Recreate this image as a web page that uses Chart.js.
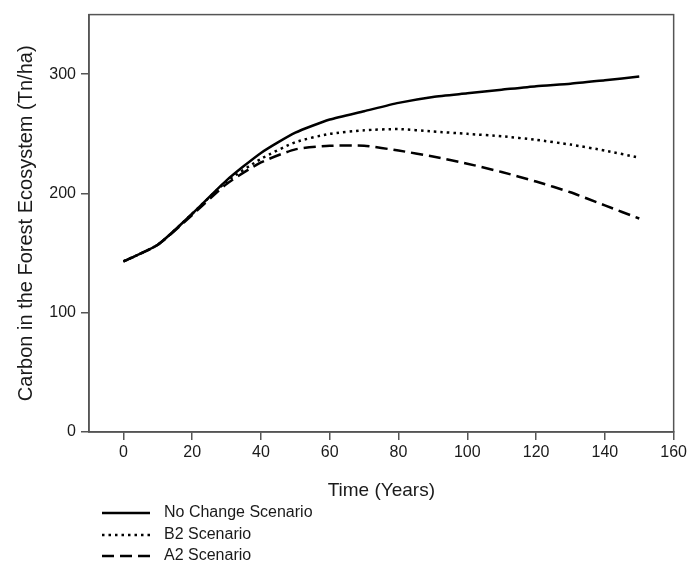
<!DOCTYPE html>
<html>
<head>
<meta charset="utf-8">
<script src="https://cdn.jsdelivr.net/npm/chart.js@4/dist/chart.umd.min.js"></script>
<style>
  html, body { margin: 0; padding: 0; background: #fff; }
  #wrap { width: 690px; height: 565px; position: relative; }
</style>
</head>
<body>
<div id="wrap"><canvas id="carbonChart"></canvas></div>
<script>
// values
var years = [0, 10, 20, 30, 40, 50, 60, 70, 80, 90, 100, 110, 120, 130, 140, 150];
var noChange = [143, 157, 183, 211, 234, 251, 262, 269, 276, 281, 284, 287, 290, 292, 295, 298];
var b2 = [143, 157, 183, 210, 229, 243, 250, 253, 254, 252, 250, 248, 245, 241, 236, 230];
var a2 = [143, 157, 182, 208, 226, 237, 240, 240, 236, 231, 225, 218, 210, 201, 190, 179];
var seriesNames = ['No Change Scenario', 'B2 Scenario', 'A2 Scenario'];
var xTicks = [0, 20, 40, 60, 80, 100, 120, 140, 160];
var yTicks = [0, 100, 200, 300];

var FONT = '"Liberation Sans", Arial, sans-serif';
var TEXT = '#1a1a1a';
var AXIS = '#555';

function points(values) {
    return values.map(function(v, i) { return { x: years[i], y: v }; });
}

// box around the plot area
var frame = {
    id: 'frame',
    afterDatasetsDraw: function(chart) {
        var a = chart.chartArea, ctx = chart.ctx;
        ctx.save();
        ctx.strokeStyle = AXIS;
        ctx.lineWidth = 1.5;
        ctx.strokeRect(a.left, a.top, a.right - a.left, a.bottom - a.top);
        ctx.restore();
    }
};

// vertical legend under the x axis title
var stackedLegend = {
    id: 'stackedLegend',
    afterDraw: function(chart) {
        var ctx = chart.ctx;
        var rows = [513, 535, 556];
        ctx.save();
        chart.data.datasets.forEach(function(ds, i) {
            var y = rows[i];
            ctx.beginPath();
            ctx.strokeStyle = ds.borderColor;
            ctx.lineWidth = ds.borderWidth;
            ctx.lineCap = ds.borderCapStyle || 'butt';
            ctx.setLineDash(ds.borderDash || []);
            ctx.moveTo(102, y);
            ctx.lineTo(150, y);
            ctx.stroke();
            ctx.setLineDash([]);
            ctx.fillStyle = TEXT;
            ctx.font = '16px ' + FONT;
            ctx.textBaseline = 'middle';
            ctx.fillText(ds.label, 164, y);
        });
        ctx.restore();
    }
};

var ctx = document.getElementById('carbonChart').getContext('2d');
var chart = new Chart(ctx, {
    type: 'line',
    data: {
        datasets: [{
            label: seriesNames[0],
            data: points(noChange),
            borderColor: '#000',
            borderWidth: 2.5,
            tension: 0.2,
            pointRadius: 0
        }, {
            label: seriesNames[1],
            data: points(b2),
            borderColor: '#000',
            borderWidth: 2.5,
            borderDash: [2.5, 4],
            tension: 0.2,
            pointRadius: 0
        }, {
            label: seriesNames[2],
            data: points(a2),
            borderColor: '#000',
            borderWidth: 2.5,
            borderDash: [12, 6],
            tension: 0.2,
            pointRadius: 0
        }]
    },
    options: {
        responsive: true,
        maintainAspectRatio: false,
        animation: false,
        layout: { padding: { left: 0, right: 16, top: 12, bottom: 63 } },
        plugins: {
            legend: { display: false },
            tooltip: { enabled: false }
        },
        scales: {
            x: {
                type: 'linear',
                min: -10,
                max: 160,
                afterBuildTicks: function(s) { s.ticks = xTicks.map(function(v) { return { value: v }; }); },
                afterFit: function(s) { s.height = 70; },
                grid: { display: true, drawOnChartArea: false, drawTicks: true, tickLength: 8, color: AXIS, lineWidth: 1.5 },
                border: { display: true, color: AXIS, width: 1.5 },
                ticks: { color: TEXT, font: { family: FONT, size: 16 }, padding: 3, maxRotation: 0 },
                title: { display: true, text: 'Time (Years)', color: TEXT, font: { family: FONT, size: 19 }, padding: { top: 0, bottom: 0 } }
            },
            y: {
                min: 0,
                max: 350,
                afterBuildTicks: function(s) { s.ticks = yTicks.map(function(v) { return { value: v }; }); },
                afterFit: function(s) { s.width = 89; },
                grid: { display: true, drawOnChartArea: false, drawTicks: true, tickLength: 8, color: AXIS, lineWidth: 1.5 },
                border: { display: true, color: AXIS, width: 1.5 },
                ticks: { color: TEXT, font: { family: FONT, size: 16 }, padding: 5 },
                title: { display: true, text: 'Carbon in the Forest Ecosystem (Tn/ha)', color: TEXT, font: { family: FONT, size: 20 }, padding: { top: 14, bottom: 0 } }
            }
        }
    },
    plugins: [frame, stackedLegend]
});
</script>
</body>
</html>
